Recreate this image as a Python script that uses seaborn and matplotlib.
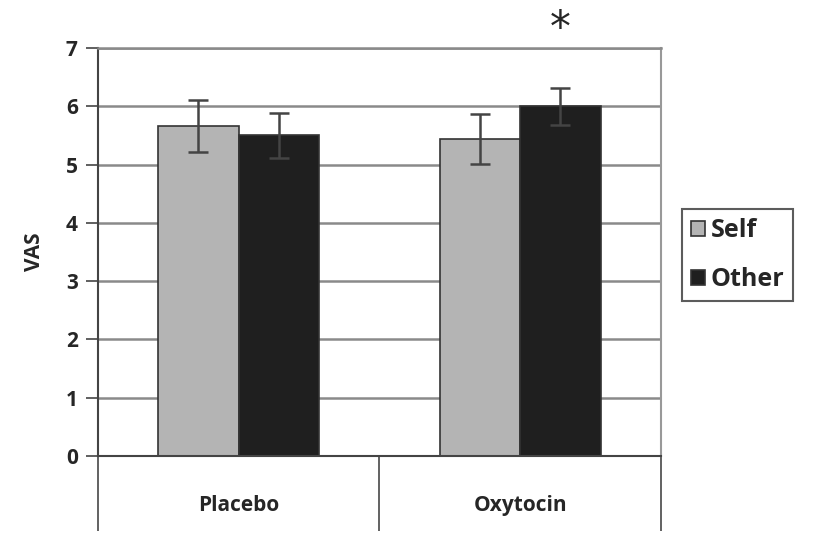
import pandas as pd
import matplotlib.pyplot as plt
import seaborn as sns

# values
conditions = ["Placebo", "Oxytocin"]
targets = ["Self", "Other"]
vas_self = [5.66, 5.44]
vas_other = [5.50, 6.00]
err_self = [0.45, 0.43]
err_other = [0.38, 0.32]

df = pd.DataFrame({
    "condition": conditions * 2,
    "target": ["Self"] * 2 + ["Other"] * 2,
    "VAS": vas_self + vas_other,
})

sns.set_style("white")
plt.rcParams["font.family"] = ["Open Sans", "DejaVu Sans"]

fig = plt.figure(figsize=(8.15, 5.33), dpi=100)
ax = fig.add_axes([0.1202, 0.1445, 0.6908, 0.7655])

sns.barplot(
    data=df, x="condition", y="VAS", hue="target",
    order=conditions, hue_order=targets,
    palette={"Self": "#b4b4b4", "Other": "#1f1f1f"},
    width=0.572, errorbar=None, saturation=1,
    edgecolor="#333333", linewidth=1.2, ax=ax, zorder=2,
)

# error bars on top of the bars
for cont, errs in zip(ax.containers, [err_self, err_other]):
    xs = [b.get_x() + b.get_width() / 2 for b in cont]
    ys = [b.get_height() for b in cont]
    ax.errorbar(xs, ys, yerr=errs, fmt="none", ecolor="#444444",
                elinewidth=1.8, capsize=7, capthick=1.8, zorder=3)

# significance star over Oxytocin / Other
star_bar = ax.containers[1][1]
ax.text(star_bar.get_x() + star_bar.get_width() / 2, 7.33, "*",
        ha="center", va="center", fontsize=30, family="DejaVu Sans",
        clip_on=False)

ax.set_ylim(0, 7)
ax.set_xlim(-0.5, 1.5)
ax.set_yticks(range(8))
ax.tick_params(axis="y", which="major", left=True, direction="out",
               length=8.5, width=1.2, color="#444444", labelsize=15, pad=6)
for lbl in ax.get_yticklabels():
    lbl.set_fontweight("bold")

ax.set_xticks([0, 1])
ax.set_xticklabels(conditions, fontsize=15, fontweight="bold")
ax.tick_params(axis="x", which="major", bottom=True, length=0, pad=28)
ax.set_xticks([-0.5, 0.5, 1.5], minor=True)
ax.tick_params(axis="x", which="minor", bottom=True, direction="out",
               length=54, width=1.3, color="#555555")

ax.set_xlabel("")
ax.set_ylabel("VAS", fontsize=15, fontweight="bold", labelpad=15)

ax.yaxis.grid(True, color="#8a8a8a", linewidth=1.8)
ax.set_axisbelow(True)

for side in ["left", "bottom"]:
    ax.spines[side].set_color("#444444")
    ax.spines[side].set_linewidth(1.5)
ax.spines["right"].set_color("#999999")
ax.spines["right"].set_linewidth(1.5)
ax.spines["top"].set_color("#8a8a8a")
ax.spines["top"].set_linewidth(1.8)

handles, labels = ax.get_legend_handles_labels()
ax.get_legend().remove()
leg = fig.legend(handles, labels, loc="center left",
                 bbox_to_anchor=(682 / 815, (533 - 255) / 533),
                 borderaxespad=0,
                 prop={"size": 18, "weight": "bold"},
                 frameon=True, fancybox=False, edgecolor="#333333",
                 handlelength=0.55, handleheight=0.55, handletextpad=0.25,
                 labelspacing=0.95, borderpad=0.35)
leg.get_frame().set_linewidth(1.5)

fig.savefig("out.png", dpi=100)
